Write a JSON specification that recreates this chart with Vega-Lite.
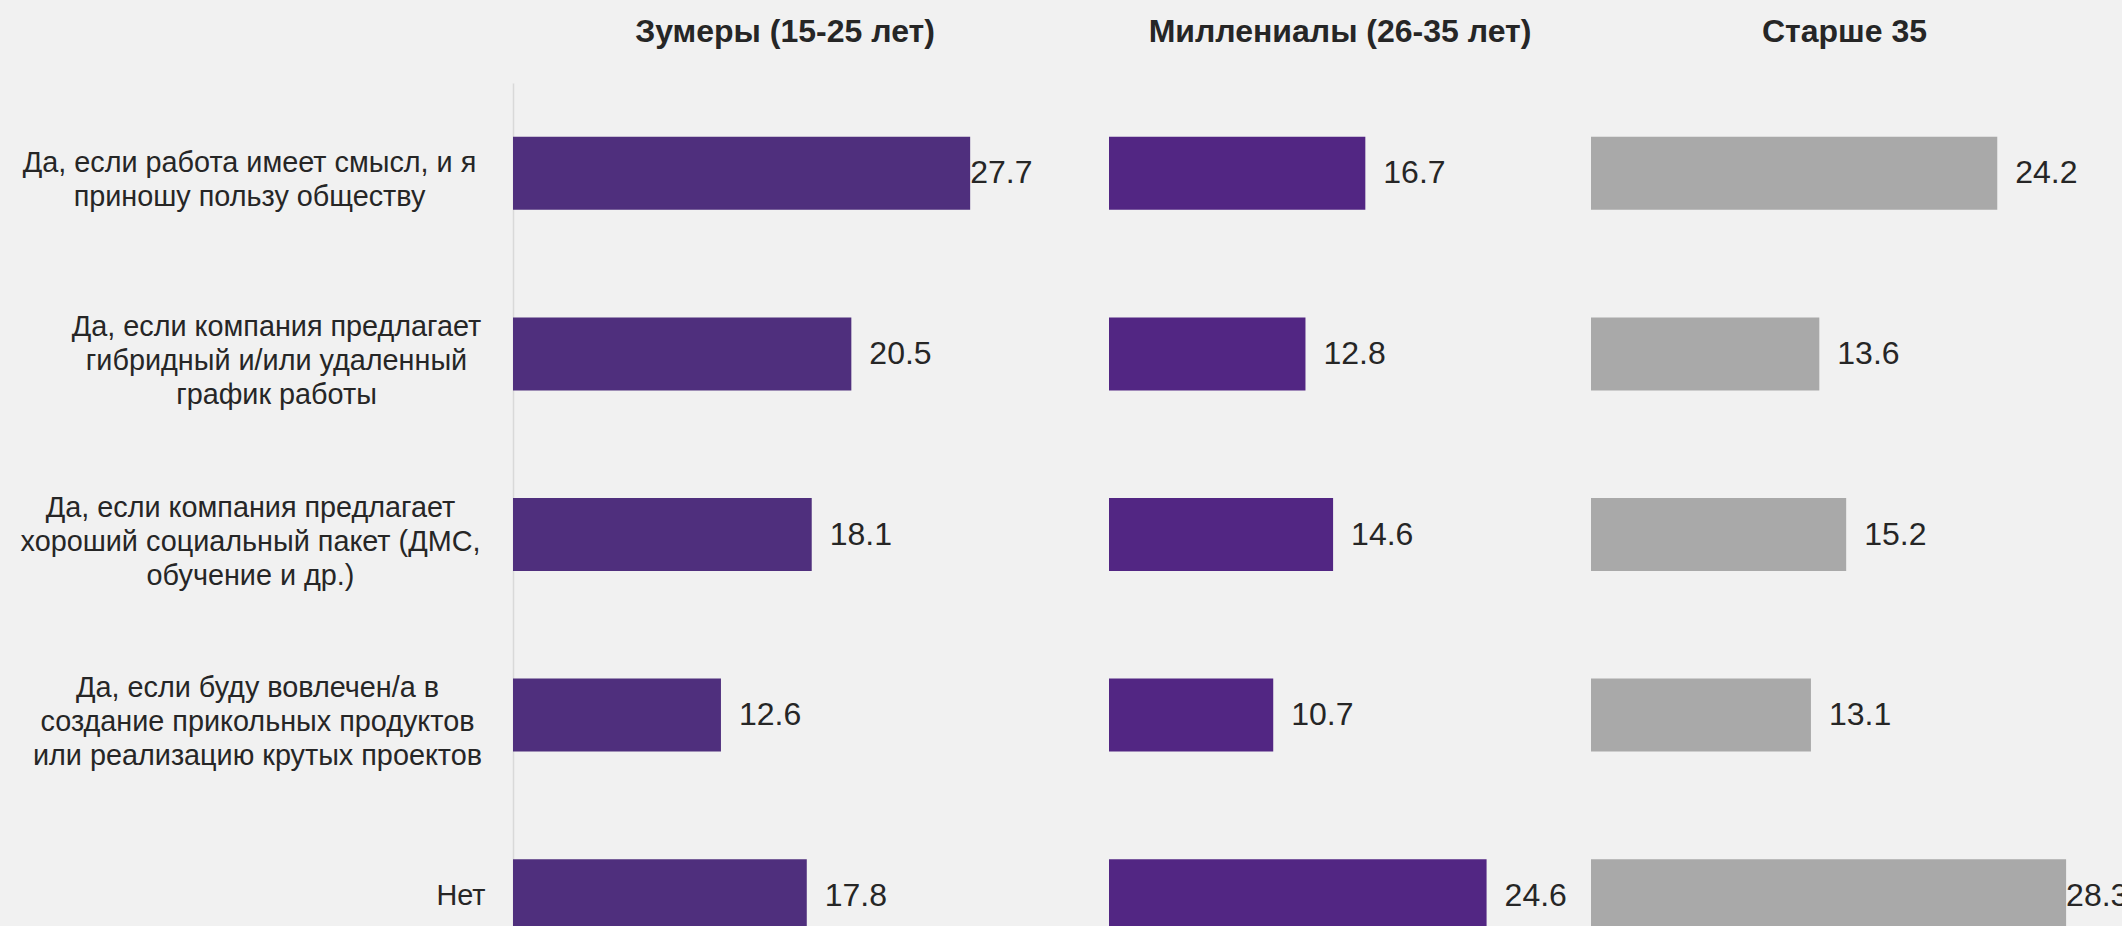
{
  "$schema": "https://vega.github.io/schema/vega-lite/v6.json",
  "background": "#f1f1f1",
  "padding": {"left": 20, "top": 16, "right": 0, "bottom": 0},
  "config": {
    "view": {"stroke": null},
    "font": "Liberation Sans",
    "title": {"font": "Liberation Sans", "fontSize": 32, "fontWeight": "bold", "color": "#262626", "anchor": "middle", "offset": 34}
  },
  "datasets": {
    "survey": [
      {"answer": "Да, если работа имеет смысл, и я\nприношу пользу обществу", "group": "Зумеры", "value": 27.7},
      {"answer": "Да, если компания предлагает\nгибридный и/или удаленный\nграфик работы", "group": "Зумеры", "value": 20.5},
      {"answer": "Да, если компания предлагает\nхороший социальный пакет (ДМС,\nобучение и др.)", "group": "Зумеры", "value": 18.1},
      {"answer": "Да, если буду вовлечен/а в\nсоздание прикольных продуктов\nили реализацию крутых проектов", "group": "Зумеры", "value": 12.6},
      {"answer": "Нет", "group": "Зумеры", "value": 17.8},
      {"answer": "Да, если работа имеет смысл, и я\nприношу пользу обществу", "group": "Миллениалы", "value": 16.7},
      {"answer": "Да, если компания предлагает\nгибридный и/или удаленный\nграфик работы", "group": "Миллениалы", "value": 12.8},
      {"answer": "Да, если компания предлагает\nхороший социальный пакет (ДМС,\nобучение и др.)", "group": "Миллениалы", "value": 14.6},
      {"answer": "Да, если буду вовлечен/а в\nсоздание прикольных продуктов\nили реализацию крутых проектов", "group": "Миллениалы", "value": 10.7},
      {"answer": "Нет", "group": "Миллениалы", "value": 24.6},
      {"answer": "Да, если работа имеет смысл, и я\nприношу пользу обществу", "group": "Старше 35", "value": 24.2},
      {"answer": "Да, если компания предлагает\nгибридный и/или удаленный\nграфик работы", "group": "Старше 35", "value": 13.6},
      {"answer": "Да, если компания предлагает\nхороший социальный пакет (ДМС,\nобучение и др.)", "group": "Старше 35", "value": 15.2},
      {"answer": "Да, если буду вовлечен/а в\nсоздание прикольных продуктов\nили реализацию крутых проектов", "group": "Старше 35", "value": 13.1},
      {"answer": "Нет", "group": "Старше 35", "value": 28.3}
    ]
  },
  "data": {"name": "survey"},
  "bounds": "flush",
  "spacing": 20,
  "hconcat": [
    {
      "title": {"text": "Зумеры (15-25 лет)", "dx": -16},
      "width": 576,
      "height": 903,
      "transform": [{"filter": "datum.group == 'Зумеры'"}],
      "layer": [
        {
          "mark": {"type": "bar", "color": "#4F2F7D"},
          "encoding": {
            "y": {"field": "answer", "type": "nominal", "sort": null,
              "scale": {"paddingInner": 0.596, "paddingOuter": 0.298},
              "axis": {"orient": "left", "title": null, "domain": true, "domainColor": "#d9d9d9", "domainWidth": 1.5,
                "ticks": false, "tickSize": 0, "labelAlign": "center", "labelBaseline": "middle",
                "labelPadding": {"condition": [
                  {"test": "indexof(datum.value, 'пользу') >= 0", "value": 264},
                  {"test": "indexof(datum.value, 'гибридный') >= 0", "value": 237},
                  {"test": "indexof(datum.value, 'социальный') >= 0", "value": 263}
                ], "value": 256},
                "labelLimit": 0,
                "labelOffset": {"condition": {"test": "indexof(datum.value, 'пользу') >= 0", "value": -10}, "value": -27},
                "labelOverlap": false, "labelFont": "Liberation Sans", "labelFontSize": 28.8, "labelLineHeight": 34, "labelColor": "#262626",
                "labelExpr": "datum.value == 'Нет' ? '' : split(datum.value, '\\n')"}},
            "x": {"field": "value", "type": "quantitative", "scale": {"domain": [0, 34.9], "nice": false}, "axis": null}
          }
        },
        {
          "mark": {"type": "text", "align": "left", "baseline": "middle", "dx": 18, "fontSize": 32, "font": "Liberation Sans", "color": "#262626"},
          "encoding": {
            "y": {"field": "answer", "type": "nominal", "sort": null,
              "axis": {"orient": "left", "title": null, "domain": false, "ticks": false, "tickSize": 0, "labelAlign": "right", "labelBaseline": "middle",
                "labelPadding": 28, "labelLimit": 0, "labelOverlap": false, "labelFont": "Liberation Sans", "labelFontSize": 28.8, "labelColor": "#262626",
                "labelExpr": "datum.value == 'Нет' ? 'Нет' : ''"}},
            "x": {"field": "value", "type": "quantitative"},
            "text": {"field": "value", "type": "quantitative", "format": ".1f"},
            "opacity": {"condition": {"test": "datum.value >= 27", "value": 0}, "value": 1}
          }
        },
        {
          "mark": {"type": "text", "align": "left", "baseline": "middle", "dx": 0, "fontSize": 32, "font": "Liberation Sans", "color": "#262626"},
          "encoding": {
            "y": {"field": "answer", "type": "nominal", "sort": null, "axis": null},
            "x": {"field": "value", "type": "quantitative"},
            "text": {"field": "value", "type": "quantitative", "format": ".1f"},
            "opacity": {"condition": {"test": "datum.value >= 27", "value": 1}, "value": 0}
          }
        }
      ],
      "resolve": {"axis": {"y": "independent"}}
    },
    {
      "title": {"text": "Миллениалы (26-35 лет)"},
      "width": 462,
      "height": 903,
      "transform": [{"filter": "datum.group == 'Миллениалы'"}],
      "layer": [
        {
          "mark": {"type": "bar", "color": "#522683"},
          "encoding": {
            "y": {"field": "answer", "type": "nominal", "sort": null, "scale": {"paddingInner": 0.596, "paddingOuter": 0.298}, "axis": null},
            "x": {"field": "value", "type": "quantitative", "scale": {"domain": [0, 30.1], "nice": false}, "axis": null}
          }
        },
        {
          "mark": {"type": "text", "align": "left", "baseline": "middle", "dx": 18, "fontSize": 32, "font": "Liberation Sans", "color": "#262626"},
          "encoding": {
            "y": {"field": "answer", "type": "nominal", "sort": null, "axis": null},
            "x": {"field": "value", "type": "quantitative"},
            "text": {"field": "value", "type": "quantitative", "format": ".1f"}
          }
        }
      ]
    },
    {
      "title": {"text": "Старше 35"},
      "width": 507,
      "height": 903,
      "transform": [{"filter": "datum.group == 'Старше 35'"}],
      "layer": [
        {
          "mark": {"type": "bar", "color": "#A9A9A9"},
          "encoding": {
            "y": {"field": "answer", "type": "nominal", "sort": null, "scale": {"paddingInner": 0.596, "paddingOuter": 0.298}, "axis": null},
            "x": {"field": "value", "type": "quantitative", "scale": {"domain": [0, 30.2], "nice": false}, "axis": null}
          }
        },
        {
          "mark": {"type": "text", "align": "left", "baseline": "middle", "dx": 18, "fontSize": 32, "font": "Liberation Sans", "color": "#262626"},
          "encoding": {
            "y": {"field": "answer", "type": "nominal", "sort": null, "axis": null},
            "x": {"field": "value", "type": "quantitative"},
            "text": {"field": "value", "type": "quantitative", "format": ".1f"},
            "opacity": {"condition": {"test": "datum.value >= 28", "value": 0}, "value": 1}
          }
        },
        {
          "mark": {"type": "text", "align": "left", "baseline": "middle", "dx": 0, "fontSize": 32, "font": "Liberation Sans", "color": "#262626"},
          "encoding": {
            "y": {"field": "answer", "type": "nominal", "sort": null, "axis": null},
            "x": {"field": "value", "type": "quantitative"},
            "text": {"field": "value", "type": "quantitative", "format": ".1f"},
            "opacity": {"condition": {"test": "datum.value >= 28", "value": 1}, "value": 0}
          }
        }
      ]
    }
  ]
}
